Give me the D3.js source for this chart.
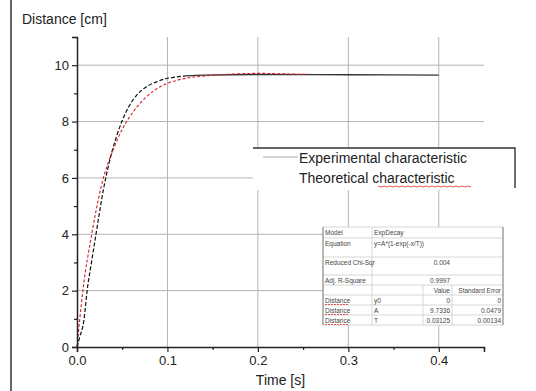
<!DOCTYPE html>
<html>
<head>
<meta charset="utf-8">
<script src="https://cdn.jsdelivr.net/npm/d3@7"></script>
<style>
  body { margin: 0; background: #fff; }
  svg { display: block; font-family: "Liberation Sans", Arial, sans-serif; }
</style>
</head>
<body>
<div id="chart"></div>
<script>
// experimental characteristic (black)
const expTime = [0, 0.003, 0.0076, 0.0112, 0.016, 0.021, 0.0293, 0.038, 0.044, 0.0496, 0.0568, 0.0658, 0.0766, 0.0874, 0.098, 0.107, 0.12];
const expDist = [0, 0.35, 0.94, 2, 3, 4, 5.6, 6.85, 7.5, 8, 8.5, 8.93, 9.23, 9.4, 9.52, 9.57, 9.62];
const expTailTime = [0.12, 0.14, 0.2, 0.3, 0.4];
const expTailDist = [9.62, 9.65, 9.67, 9.66, 9.65];

// theoretical characteristic (red)
const theoTime = [0, 0.0029, 0.0065, 0.0163, 0.0264, 0.0406, 0.0496, 0.0568, 0.0658, 0.0766, 0.0874, 0.098, 0.109, 0.125, 0.145, 0.17, 0.2, 0.23, 0.255];
const theoDist = [0, 0.94, 2, 4, 5.65, 7.05, 7.7, 8.1, 8.5, 8.87, 9.15, 9.33, 9.45, 9.56, 9.63, 9.68, 9.71, 9.69, 9.67];

const xTicks = [0, 0.1, 0.2, 0.3, 0.4];
const xMinor = [0.05, 0.15, 0.25, 0.35, 0.45];
const yTicks = [0, 2, 4, 6, 8, 10];
const yMinor = [1, 3, 5, 7, 9, 11];

const legendItems = ["Experimental characteristic", "Theoretical characteristic"];

// fit report table
const tableRows = [
    ["Model", "ExpDecay", "", ""],
    ["Equation", "y=A*(1-exp(-x/T))", "", ""],
    ["Reduced Chi-Sqr", "", "0.004", ""],
    ["Adj. R-Square", "", "0.9997", ""],
    ["", "", "Value", "Standard Error"],
    ["Distance", "y0", "0", "0"],
    ["Distance", "A", "9.7336", "0.0479"],
    ["Distance", "T", "0.03125", "0.00134"]
];

const width = 536, height = 391;
const margin = { top: 37, left: 77, right: 52, bottom: 44 };

const svg = d3.select("#chart").append("svg")
    .attr("width", width)
    .attr("height", height);

const x = d3.scaleLinear().domain([0, 0.45]).range([margin.left, width - margin.right]);
const y = d3.scaleLinear().domain([0, 11]).range([height - margin.bottom, margin.top]);

// left frame line
svg.append("line")
    .attr("x1", 11).attr("x2", 11).attr("y1", 0).attr("y2", height)
    .attr("stroke", "#333").attr("stroke-width", 1.5);

// grid
svg.append("g").selectAll("line")
    .data(xTicks.slice(1))
    .join("line")
    .attr("x1", d => x(d)).attr("x2", d => x(d))
    .attr("y1", y(11)).attr("y2", y(0))
    .attr("stroke", "#b4b4b4");
svg.append("g").selectAll("line")
    .data(yTicks.slice(1))
    .join("line")
    .attr("x1", x(0)).attr("x2", x(0.45))
    .attr("y1", d => y(d)).attr("y2", d => y(d))
    .attr("stroke", "#b4b4b4");

// curves
const line = d3.line().x(d => x(d[0])).y(d => y(d[1])).curve(d3.curveMonotoneX);

svg.append("path")
    .datum(expTailTime.map((t, i) => [t, expTailDist[i]]))
    .attr("d", line)
    .attr("fill", "none").attr("stroke", "#333").attr("stroke-width", 1.3);

svg.append("path")
    .datum(expTime.map((t, i) => [t, expDist[i]]))
    .attr("d", line)
    .attr("fill", "none").attr("stroke", "#111").attr("stroke-width", 1.2)
    .attr("stroke-dasharray", "4,2");

svg.append("path")
    .datum(theoTime.map((t, i) => [t, theoDist[i]]))
    .attr("d", line)
    .attr("fill", "none").attr("stroke", "#d0202a").attr("stroke-width", 1.1)
    .attr("stroke-dasharray", "3,2");

// axes
svg.append("g")
    .attr("transform", `translate(0,${y(0)})`)
    .call(d3.axisBottom(x).tickValues(xTicks).tickFormat(d3.format(".1f")).tickSize(5).tickPadding(4));
svg.append("g")
    .attr("transform", `translate(0,${y(0)})`)
    .call(d3.axisBottom(x).tickValues(xMinor).tickFormat("").tickSize(3))
    .select(".domain").remove();

svg.append("g")
    .attr("transform", `translate(${x(0)},0)`)
    .call(d3.axisLeft(y).tickValues(yTicks).tickSize(5).tickPadding(3));
svg.append("g")
    .attr("transform", `translate(${x(0)},0)`)
    .call(d3.axisLeft(y).tickValues(yMinor).tickFormat("").tickSize(3))
    .select(".domain").remove();

svg.selectAll(".domain").attr("stroke", "#222").attr("stroke-width", 1.5);
svg.selectAll(".tick line").attr("stroke", "#222").attr("stroke-width", 1.2);
svg.selectAll(".tick text")
    .attr("font-size", 13)
    .attr("fill", "#222")
    .attr("font-family", "'Liberation Sans', Arial, sans-serif");

// axis titles
svg.append("text")
    .attr("x", 22).attr("y", 24)
    .attr("font-size", 14).attr("fill", "#222")
    .text("Distance [cm]");
svg.append("text")
    .attr("x", x(0.225)).attr("y", 385)
    .attr("text-anchor", "middle")
    .attr("font-size", 14).attr("fill", "#222")
    .text("Time [s]");

// legend
const legend = svg.append("g").attr("transform", "translate(253,148)");
legend.append("rect")
    .attr("x", 0).attr("y", 0).attr("width", 262).attr("height", 42)
    .attr("fill", "#fff");
legend.append("path")
    .attr("d", "M0,0H262V40")
    .attr("fill", "none").attr("stroke", "#333").attr("stroke-width", 1.4);
legend.append("line")
    .attr("x1", 10).attr("x2", 45).attr("y1", 9).attr("y2", 9)
    .attr("stroke", "#aaa").attr("stroke-width", 1);
legend.selectAll("text.leg")
    .data(legendItems)
    .join("text")
    .attr("class", "leg")
    .attr("x", 46)
    .attr("y", (d, i) => 15 + i * 20)
    .attr("font-size", 14)
    .attr("fill", "#222")
    .text(d => d);
// spell-check squiggle under the second "characteristic"
legend.append("path")
    .attr("d", d3.range(0, 94, 3).map((v, i) => `${i ? "L" : "M"}${125 + v},${38 + (i % 2)}`).join(""))
    .attr("fill", "none").attr("stroke", "#e03030").attr("stroke-width", 0.8);

// fit report table
const colX = [323, 372, 423, 452, 503];
const rowY = [227, 238, 257, 275, 285, 295, 305, 315, 325];
const table = svg.append("g");
table.append("rect")
    .attr("x", colX[0]).attr("y", rowY[0])
    .attr("width", colX[4] - colX[0]).attr("height", rowY[8] - rowY[0])
    .attr("fill", "#fff");
table.selectAll("line.h")
    .data(rowY)
    .join("line")
    .attr("x1", colX[0]).attr("x2", colX[4])
    .attr("y1", d => d).attr("y2", d => d)
    .attr("stroke", "#ccc").attr("stroke-width", 0.8);
table.selectAll("line.v")
    .data(colX)
    .join("line")
    .attr("x1", d => d).attr("x2", d => d)
    .attr("y1", (d, i) => (i === 2 || i === 3) ? rowY[4] : rowY[0])
    .attr("y2", rowY[8])
    .attr("stroke", (d, i) => (i === 0 || i === 4) ? "#888" : "#ccc")
    .attr("stroke-width", (d, i) => (i === 0 || i === 4) ? 1.2 : 0.8);

tableRows.forEach((row, r) => {
    const yy = rowY[r] + 8;
    row.forEach((cell, c) => {
        if (!cell) return;
        const right = c >= 2;
        table.append("text")
            .attr("x", right ? colX[c + 1] - 2 : colX[c] + 2)
            .attr("y", yy)
            .attr("text-anchor", right ? "end" : "start")
            .attr("font-size", 6.5)
            .attr("fill", "#444")
            .text(cell);
    });
    if (row[0] === "Distance") {
        table.append("line")
            .attr("x1", colX[0] + 2).attr("x2", colX[0] + 25)
            .attr("y1", yy + 1.5).attr("y2", yy + 1.5)
            .attr("stroke", "#e03030").attr("stroke-width", 0.8)
            .attr("stroke-dasharray", "2,1");
    }
});
</script>
</body>
</html>
